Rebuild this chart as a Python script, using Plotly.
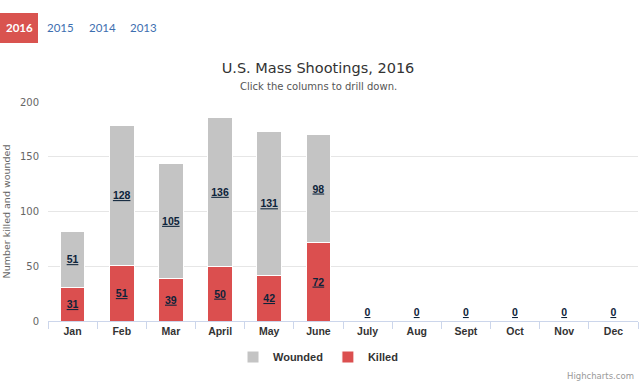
import plotly.graph_objects as go

months = ["Jan", "Feb", "Mar", "April", "May", "June", "July", "Aug", "Sept", "Oct", "Nov", "Dec"]
killed = [31, 51, 39, 50, 42, 72, 0, 0, 0, 0, 0, 0]
wounded = [51, 128, 105, 136, 131, 98, 0, 0, 0, 0, 0, 0]
years = ["2016", "2015", "2014", "2013"]

W, H = 640, 384
L, R, T, B = 48, 2, 102, 63
PW, PH = W - L - R, H - T - B

def px(x):
    return (x - L) / PW

def py(y):
    return (H - B - y) / PH

FONT = "DejaVu Sans"
BOLD = "Liberation Sans"
label_font = dict(family=BOLD, size=10.5, color="#0d233a", weight="bold", lineposition="under")

fig = go.Figure()
fig.add_bar(
    x=months, y=killed, name="Killed",
    marker=dict(color="#db4f4f", line=dict(color="white", width=1)),
    text=[str(v) for v in killed],
    textposition=["inside" if v > 0 else "outside" for v in killed],
    insidetextanchor="middle",
    textfont=label_font, insidetextfont=label_font, outsidetextfont=label_font,
    textangle=0, cliponaxis=False,
)
fig.add_bar(
    x=months, y=wounded, name="Wounded",
    marker=dict(color="#c4c4c4", line=dict(color="white", width=1)),
    text=[str(v) if v > 0 else "" for v in wounded],
    textposition="inside", insidetextanchor="middle",
    textfont=label_font, insidetextfont=label_font,
    textangle=0,
)

shapes = [dict(type="rect", xref="paper", yref="paper",
               x0=px(0), x1=px(38), y0=py(43), y1=py(13),
               fillcolor="#d9534f", line=dict(width=0), layer="above")]
annotations = []
year_x = [19, 60, 102, 143]
for i, (yr, xx) in enumerate(zip(years, year_x)):
    annotations.append(dict(
        text=yr, xref="paper", yref="paper", x=px(xx), y=py(28),
        xanchor="center", yanchor="middle", showarrow=False,
        font=dict(family="Lato", size=11.5,
                  color="white" if i == 0 else "#3d6fb0",
                  weight="bold" if i == 0 else "normal")))
annotations.append(dict(
    text="Click the columns to drill down.", xref="paper", yref="paper",
    x=px(318), y=py(86), xanchor="center", yanchor="middle", showarrow=False,
    font=dict(family=FONT, size=10, color="#555555")))
annotations.append(dict(
    text="Highcharts.com", xref="paper", yref="paper",
    x=px(636), y=py(376), xanchor="right", yanchor="middle", showarrow=False,
    font=dict(family=FONT, size=8.5, color="#999999")))

fig.update_layout(
    width=W, height=H,
    margin=dict(l=L, r=R, t=T, b=B),
    paper_bgcolor="white", plot_bgcolor="white",
    barmode="stack", bargap=0.5,
    font=dict(family=FONT, color="#333333"),
    title=dict(text="U.S. Mass Shootings, 2016", x=px(318), xanchor="center", xref="paper",
               y=1 - 68 / H, yanchor="middle",
               font=dict(family=FONT, size=14.5, color="#333333")),
    xaxis=dict(tickson="boundaries", ticks="outside", ticklen=7,
               tickcolor="#ccd6eb", showline=True, linecolor="#ccd6eb",
               tickfont=dict(family=BOLD, size=10.5, color="#333333", weight="bold"),
               showgrid=False, fixedrange=True),
    yaxis=dict(range=[0, 200], dtick=50, showgrid=True, gridcolor="#e6e6e6",
               zeroline=False, tickfont=dict(family=FONT, size=10, color="#666666"),
               title=dict(text="Number killed and wounded",
                          font=dict(family=FONT, size=9.5, color="#666666"), standoff=7),
               ticklabelstandoff=8, fixedrange=True),
    legend=dict(orientation="h", x=px(318), xanchor="center", y=py(357), yanchor="middle",
                traceorder="reversed", itemwidth=30,
                font=dict(family=BOLD, size=11, color="#333333", weight="bold")),
    shapes=shapes, annotations=annotations,
    uniformtext=dict(minsize=8, mode="show"),
)

fig.write_html("out.html", config={"displayModeBar": False},
               post_script="document.body.style.margin='0';document.documentElement.style.margin='0';")
